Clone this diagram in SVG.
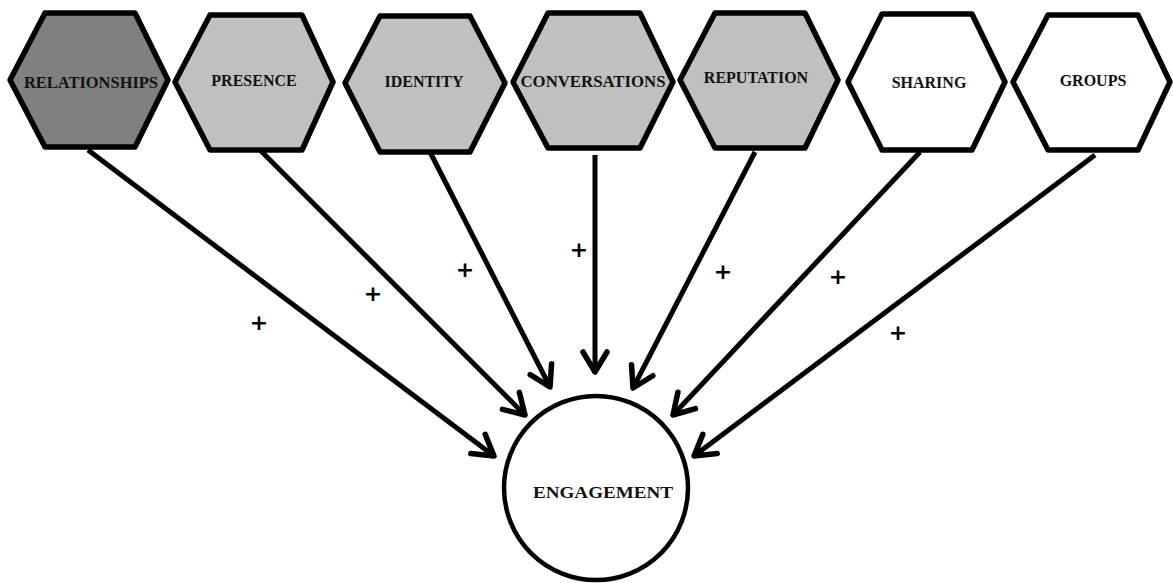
<svg xmlns="http://www.w3.org/2000/svg" width="1173" height="583" viewBox="0 0 1173 583">
<defs>
<style>
.hex{stroke:#000;stroke-width:5.5;stroke-linejoin:round}
.dark{fill:#808080}
.light{fill:#c0c0c0}
.white{fill:#fff}
.lbl{font-family:"Liberation Serif",serif;font-weight:bold;font-size:16px;text-anchor:middle;fill:#111}
.plus{font-family:"DejaVu Sans",sans-serif;font-weight:bold;font-size:22px;text-anchor:middle;dominant-baseline:central;fill:#000}
.conn{stroke:#000;stroke-width:5;fill:none;marker-end:url(#arr)}
</style>
<marker id="arr" markerUnits="userSpaceOnUse" markerWidth="40" markerHeight="40" refX="0" refY="0" viewBox="-30 -20 40 40" orient="auto" overflow="visible">
<path d="M-20,-12 L0,0 L-20,12" fill="none" stroke="#000" stroke-width="5.5" stroke-linecap="round" stroke-linejoin="round"/>
</marker>
</defs>
<g id="connectors">
<line class="conn" x1="88" y1="150" x2="494" y2="456"/>
<line class="conn" x1="260" y1="150" x2="525" y2="415"/>
<line class="conn" x1="430" y1="152" x2="550" y2="387"/>
<line class="conn" x1="595" y1="155" x2="595" y2="372"/>
<line class="conn" x1="755" y1="152" x2="633" y2="388"/>
<line class="conn" x1="920" y1="152" x2="673" y2="415"/>
<line class="conn" x1="1095" y1="155" x2="694" y2="456"/>
<text class="plus" x="259" y="322">+</text>
<text class="plus" x="373" y="293">+</text>
<text class="plus" x="465" y="269">+</text>
<text class="plus" x="579" y="249">+</text>
<text class="plus" x="723" y="271">+</text>
<text class="plus" x="838" y="276">+</text>
<text class="plus" x="898" y="332">+</text>
</g>
<g id="relationships">
<polygon class="hex dark" points="45,13 135,13 168,80 135,147 45,147 10,80"/>
<text class="lbl" x="91" y="88" textLength="134" lengthAdjust="spacingAndGlyphs">RELATIONSHIPS</text>
</g>
<g id="presence">
<polygon class="hex light" points="210,15 302,15 333,82 302,150 210,150 175,82"/>
<text class="lbl" x="254" y="86">PRESENCE</text>
</g>
<g id="identity">
<polygon class="hex light" points="380,16 470,16 505,83 470,152 380,152 345,83"/>
<text class="lbl" x="424" y="87">IDENTITY</text>
</g>
<g id="conversations">
<polygon class="hex light" points="548,13 640,13 673,82 640,148 548,148 513,82"/>
<text class="lbl" x="593" y="87" textLength="145" lengthAdjust="spacingAndGlyphs">CONVERSATIONS</text>
</g>
<g id="reputation">
<polygon class="hex light" points="715,13 805,13 838,80 805,148 715,148 680,80"/>
<text class="lbl" x="756" y="83">REPUTATION</text>
</g>
<g id="sharing">
<polygon class="hex white" points="882,14 972,14 1005,82 972,150 882,150 848,82"/>
<text class="lbl" x="929" y="88">SHARING</text>
</g>
<g id="groups">
<polygon class="hex white" points="1048,15 1138,15 1170,82 1138,150 1048,150 1013,82"/>
<text class="lbl" x="1093" y="86">GROUPS</text>
</g>
<g id="engagement">
<circle cx="596" cy="488" r="92" fill="#fff" stroke="#000" stroke-width="4.5"/>
<text class="lbl" x="603" y="498" style="font-size:17px" textLength="140" lengthAdjust="spacingAndGlyphs">ENGAGEMENT</text>
</g>
</svg>
